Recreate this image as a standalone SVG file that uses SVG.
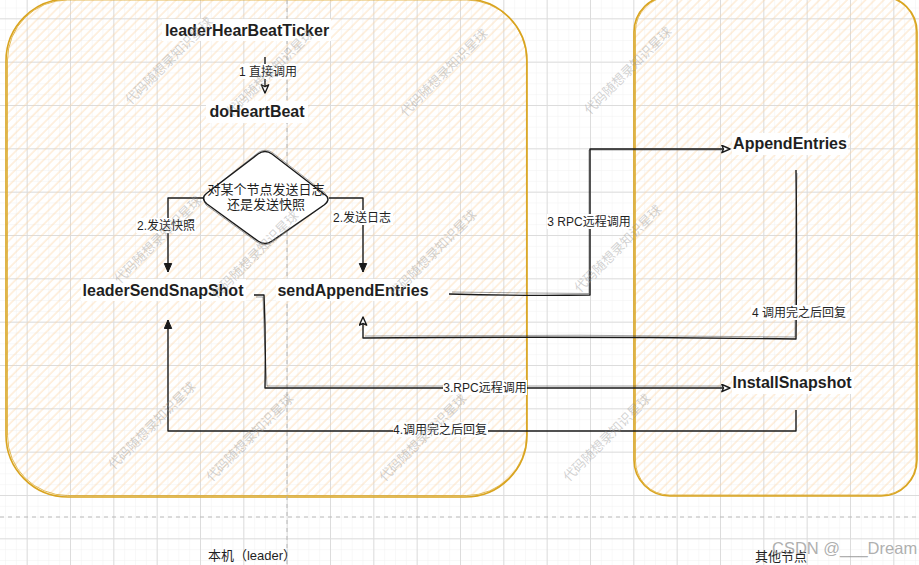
<svg xmlns="http://www.w3.org/2000/svg" width="919" height="565" viewBox="0 0 919 565">
<defs>
  <pattern id="gridMinor" patternUnits="userSpaceOnUse" width="10.833" height="10.833" x="26.667" y="18.333">
    <path d="M0,0 V10.833 M0,0 H10.833" stroke="#f1f1f1" stroke-width="1" fill="none"/>
  </pattern>
  <pattern id="gridMajor" patternUnits="userSpaceOnUse" width="43.333" height="43.333" x="26.667" y="18.333">
    <path d="M0.5,0 V43.333 M0,0.5 H43.333" stroke="#dcdcdc" stroke-width="1" fill="none"/>
  </pattern>
  <pattern id="hatch" patternUnits="userSpaceOnUse" width="6.5" height="6.5" patternTransform="rotate(45)">
    <line x1="1" y1="0" x2="1" y2="6.5" stroke="#fbd3a1" stroke-width="1.1" stroke-opacity="0.6"/>
  </pattern>
  <marker id="arrFill" markerUnits="userSpaceOnUse" markerWidth="12" markerHeight="12" refX="9" refY="4.5" orient="auto">
    <path d="M0.5,0.8 L9,4.5 L0.5,8.2 Z" fill="#1a1a1a" stroke="#1a1a1a" stroke-width="1" stroke-linejoin="round"/>
  </marker>
  <marker id="arrOpen" markerUnits="userSpaceOnUse" markerWidth="12" markerHeight="12" refX="9" refY="4.5" orient="auto">
    <path d="M0.8,0.8 L9,4.5 L0.8,8.2 L2.5,4.5 Z" fill="#ffffff" stroke="#1a1a1a" stroke-width="1.4" stroke-linejoin="round"/>
  </marker>
  <style>
    .node { font-family: "Liberation Sans", "Noto Sans CJK SC", sans-serif; font-weight: bold; font-size: 16px; fill: #1f1f1f; text-anchor: middle; }
    .lbl { font-family: "Liberation Sans", "Noto Sans CJK SC", sans-serif; font-size: 12px; fill: #1f1f1f; text-anchor: middle; }
    .dia { font-family: "Liberation Sans", "Noto Sans CJK SC", sans-serif; font-size: 13px; fill: #1f1f1f; text-anchor: middle; }
    .cap { font-family: "Liberation Sans", "Noto Sans CJK SC", sans-serif; font-size: 13px; fill: #1f1f1f; text-anchor: middle; }
    .bg { fill: #ffffff; }
    .wire { fill: none; stroke: #1a1a1a; stroke-width: 1.4; stroke-linejoin: round; }
    .ghost { fill: none; stroke: #1a1a1a; stroke-width: 0.9; stroke-opacity: 0.45; stroke-linejoin: round; }
    .cont { fill: url(#hatch); stroke: #d9a41f; stroke-width: 1.6; }
    .cont2 { fill: none; stroke: #d9a41f; stroke-width: 1; stroke-opacity: 0.75; }
    .dash { stroke: #b9b9b9; stroke-width: 1; stroke-dasharray: 4 4; fill: none; }
    .wm { font-family: "Noto Sans CJK SC", sans-serif; font-size: 13px; fill: #9a9a9a; fill-opacity: 0.45; text-anchor: middle; }
  </style>
</defs>

<!-- background grid -->
<rect x="0" y="0" width="919" height="565" fill="#ffffff"/>
<rect x="0" y="0" width="919" height="565" fill="url(#gridMinor)"/>
<rect x="0" y="0" width="919" height="565" fill="url(#gridMajor)"/>

<!-- containers -->
<g id="container-leader">
  <rect class="cont" x="6" y="-1" width="521" height="498" rx="62" ry="62"/>
  <rect class="cont2" x="7.5" y="0" width="519" height="495.5" rx="60" ry="60"/>
</g>
<g id="container-others">
  <rect class="cont" x="634" y="-4" width="283" height="500" rx="36" ry="36"/>
  <rect class="cont2" x="635.5" y="-3" width="280.5" height="498" rx="34" ry="34"/>
</g>

<!-- dashed guides -->
<g id="guides">
  <line class="dash" x1="287" y1="0" x2="287" y2="565"/>
  <line class="dash" x1="0" y1="517" x2="919" y2="517"/>
</g>

<!-- connectors -->
<g id="connectors">
  <!-- 1 direct call -->
  <path class="wire" d="M265,57 V93" marker-end="url(#arrOpen)"/>
  <!-- decision branches -->
  <path class="wire" d="M203,198 H168 V272" marker-end="url(#arrFill)"/>
  <path class="wire" d="M329,198 H363 V272" marker-end="url(#arrFill)"/>
  <!-- sendAppendEntries -> AppendEntries -->
  <path class="wire" d="M449,294 Q520,296 590,295 V149 H730" marker-end="url(#arrOpen)"/>
  <path class="ghost" d="M452,292 Q520,293 589,293.5 V150 H722"/>
  <!-- AppendEntries reply -> sendAppendEntries -->
  <path class="wire" d="M796,170 Q797,250 796,339 Q580,336 363,338 V317" marker-end="url(#arrOpen)"/>
  <path class="ghost" d="M797,173 Q795,250 795,337 Q580,334 365,336"/>
  <!-- leaderSendSnapShot -> InstallSnapshot -->
  <path class="wire" d="M254,295 H264 Q266,340 265,388 H730" marker-end="url(#arrOpen)"/>
  <path class="ghost" d="M256,297 H263 Q264,340 267,386 H722"/>
  <!-- InstallSnapshot reply -> leaderSendSnapShot -->
  <path class="wire" d="M796,410 V431 H168 V320" marker-end="url(#arrFill)"/>

  <!-- edge labels -->
  <rect class="bg" x="240" y="64" width="57" height="15"/>
  <text class="lbl" x="268" y="76">1 直接调用</text>
  <rect class="bg" x="136" y="218" width="60" height="15"/>
  <text class="lbl" x="166" y="230">2.发送快照</text>
  <rect class="bg" x="332" y="210" width="61" height="15"/>
  <text class="lbl" x="362" y="222">2.发送日志</text>
  <rect class="bg" x="547" y="214" width="84" height="15"/>
  <text class="lbl" x="589" y="226">3 RPC远程调用</text>
  <rect class="bg" x="751" y="305" width="96" height="15"/>
  <text class="lbl" x="799" y="317">4 调用完之后回复</text>
  <rect class="bg" x="443" y="380" width="84" height="15"/>
  <text class="lbl" x="485" y="392">3.RPC远程调用</text>
  <rect class="bg" x="393" y="422" width="95" height="15"/>
  <text class="lbl" x="440" y="434">4.调用完之后回复</text>
</g>

<!-- nodes -->
<g id="leaderHearBeatTicker">
  <rect class="bg" x="162" y="19" width="169" height="22"/>
  <text class="node" x="247" y="36">leaderHearBeatTicker</text>
</g>
<g id="doHeartBeat">
  <rect class="bg" x="206" y="101" width="102" height="22"/>
  <text class="node" x="257" y="117">doHeartBeat</text>
</g>
<g id="decision">
  <path d="M258,154 Q265,149 272,154 L324,194 Q332,199 324,205 L272,241 Q265,246 258,241 L207,204 Q200,198 207,193 Z" fill="#ffffff" stroke="#1a1a1a" stroke-width="1.4" stroke-linejoin="round"/>
  <path d="M259,152 Q266,148 273,153 L325,193 Q331,200 323,206 L271,243 Q264,247 257,242 L206,205 Q201,197 208,192 Z" fill="none" stroke="#1a1a1a" stroke-width="0.8" stroke-opacity="0.5"/>
  <text class="dia" x="266" y="194">对某个节点发送日志</text>
  <text class="dia" x="266" y="209">还是发送快照</text>
</g>
<g id="leaderSendSnapShot">
  <rect class="bg" x="81" y="279" width="165" height="22"/>
  <text class="node" x="163" y="296">leaderSendSnapShot</text>
</g>
<g id="sendAppendEntries">
  <rect class="bg" x="276" y="279" width="154" height="22"/>
  <text class="node" x="353" y="296">sendAppendEntries</text>
</g>
<g id="AppendEntries">
  <rect class="bg" x="732" y="133" width="116" height="22"/>
  <text class="node" x="790" y="149">AppendEntries</text>
</g>
<g id="InstallSnapshot">
  <rect class="bg" x="732" y="372" width="122" height="22"/>
  <text class="node" x="792" y="388">InstallSnapshot</text>
</g>

<!-- captions -->
<g id="caption-leader">
  <text class="cap" x="252" y="560">本机（leader）</text>
</g>
<g id="caption-others">
  <text class="cap" x="781" y="561">其他节点</text>
</g>

<!-- watermarks -->
<g id="watermarks">
  <text class="wm" transform="translate(172,64) rotate(-45)">代码随想录知识星球</text>
  <text class="wm" transform="translate(273,76) rotate(-45)">代码随想录知识星球</text>
  <text class="wm" transform="translate(447,76) rotate(-45)">代码随想录知识星球</text>
  <text class="wm" transform="translate(631,74) rotate(-45)">代码随想录知识星球</text>
  <text class="wm" transform="translate(161,243) rotate(-45)">代码随想录知识星球</text>
  <text class="wm" transform="translate(258,258) rotate(-45)">代码随想录知识星球</text>
  <text class="wm" transform="translate(436,257) rotate(-45)">代码随想录知识星球</text>
  <text class="wm" transform="translate(621,252) rotate(-45)">代码随想录知识星球</text>
  <text class="wm" transform="translate(155,429) rotate(-45)">代码随想录知识星球</text>
  <text class="wm" transform="translate(253,441) rotate(-45)">代码随想录知识星球</text>
  <text class="wm" transform="translate(426,441) rotate(-45)">代码随想录知识星球</text>
  <text class="wm" transform="translate(610,441) rotate(-45)">代码随想录知识星球</text>
  <text x="772" y="554" font-family="Liberation Sans, sans-serif" font-size="16.5" fill="#9a9a9a" fill-opacity="0.8">CSDN @___Dream</text>
</g>
</svg>
